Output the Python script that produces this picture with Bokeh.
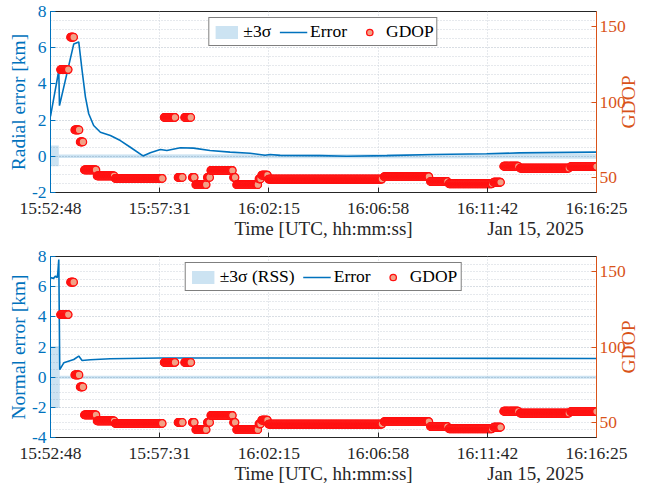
import math
import numpy as np
from bokeh.plotting import figure
from bokeh.models import (Range1d, LinearAxis, FixedTicker, DatetimeTickFormatter,
                          SingleIntervalTicker, Legend, LegendItem)
from bokeh.layouts import column
from bokeh.embed import file_html
from bokeh.resources import INLINE

# ---------------- data ----------------
start_time = "2025-01-15T15:52:48"
duration_s = 1417
tick_seconds = [0, 283, 567, 850, 1134, 1417]
x_title = "Time [UTC, hh:mm:ss]"
date_text = "Jan 15, 2025"
date_pos_s = 1258.5

# radial error [km]
radial_t = [0, 21.5, 23.3, 60.4, 73.3, 82, 90.7, 99.2, 112, 129.5, 155.4, 181.3, 207.2,
            240, 259, 285, 302, 337, 371, 414, 466, 518, 557, 570, 596, 699, 769, 873,
            992, 1132, 1217, 1417]
radial_err = [2.2, 4.74, 2.8, 6.21, 6.32, 4.74, 3.27, 2.35, 1.7, 1.33, 1.15, 0.87, 0.5,
              0.02, 0.2, 0.38, 0.32, 0.47, 0.45, 0.32, 0.23, 0.17, 0.06, 0.1, 0.05, 0.04,
              0.0, 0.04, 0.1, 0.14, 0.19, 0.23]
radial_sig_t = [0, 21.5, 21.6, 1417]
radial_sig_lo = [-0.55, -0.55, -0.1, -0.13]
radial_sig_hi = [0.6, 0.6, 0.1, 0.13]

# normal error [km]
normal_t = [0, 7.8, 13, 17.4, 19, 21.5, 24, 34.5, 60.4, 73.3, 82, 103.6, 155, 285, 570,
            907, 1417]
normal_err = [6.6, 6.55, 6.7, 6.6, 6.9, 7.8, 0.5, 0.95, 1.17, 1.4, 1.1, 1.15, 1.22,
              1.27, 1.27, 1.25, 1.24]
normal_sig_t = [0, 24, 24.1, 1417]
normal_sig_lo = [-2.05, -2.05, -0.1, -0.1]
normal_sig_hi = [2.05, 2.05, 0.1, 0.1]

# GDOP (constant-level runs: start [s], end [s], value)
gdop_start = [26, 52, 63, 77, 88, 121, 168, 295, 331, 348, 368, 377, 407, 416, 475,
              483, 541, 548, 566, 866, 986, 1034, 1150, 1176, 1219, 1350]
gdop_end = [46, 60, 74, 84, 118, 165, 290, 323, 342, 364, 373, 404, 413, 472, 479,
            538, 545, 563, 860, 982, 1030, 1146, 1168, 1214, 1345, 1417]
gdop_value = [121.5, 143, 81.5, 73.5, 55, 51, 49.3, 89.8, 50, 89.8, 50, 45.2, 50, 54.6,
              50, 45.2, 49, 51.5, 48.9, 50.5, 47.3, 45.8, 46.8, 57.4, 56.1, 57.2]
gdop_ticks = [50, 100, 150]
gdop_range = (40, 160)

# ---------------- style ----------------
FONT = "Liberation Serif"
BLUE = "#0072BD"
ORANGE = "#D95319"
DARK = "#262626"
GRID = "#ccd3da"
TICK_FS = "17.5px"
LABEL_FS = "19.5px"
FRAME_H = 181

t0_ms = float(np.datetime64(start_time, "ms").astype("int64"))


def to_ms(sec):
    return [t0_ms + 1000.0 * s for s in sec]


gd_t, gd_v = [], []
for s, e, v in zip(gdop_start, gdop_end, gdop_value):
    for tt in np.arange(s, e + 0.01, 1.0):
        gd_t.append(tt)
        gd_v.append(v)


def style_axis(a, color, fs=TICK_FS):
    a.axis_line_color = color
    a.major_tick_line_color = color
    a.major_label_text_color = color
    a.axis_label_text_color = color
    a.major_label_text_font = FONT
    a.major_label_text_font_size = fs
    a.axis_label_text_font = FONT
    a.axis_label_text_font_size = LABEL_FS
    a.axis_label_text_font_style = "normal"
    a.major_tick_in = 5
    a.major_tick_out = 0
    a.minor_tick_in = 0
    a.minor_tick_out = 0
    a.axis_line_width = 1
    a.major_label_standoff = 3
    a.axis_label_standoff = 1


def make_fig(height, top_border, bottom_border, ylabel, yr, t_err, err, t_sig, lo, hi,
             band_label):
    p = figure(width=652, height=height, x_axis_type="datetime",
               x_range=Range1d(t0_ms, t0_ms + duration_s * 1000.0),
               y_range=Range1d(*yr), output_backend="svg", toolbar_location=None,
               min_border_left=50, min_border_right=55, min_border_top=top_border,
               min_border_bottom=bottom_border, background_fill_color="white",
               border_fill_color="white")
    p.outline_line_color = DARK
    p.outline_line_width = 1

    p.extra_y_ranges = {"gdop": Range1d(*gdop_range)}

    band = p.varea(x=to_ms(t_sig), y1=lo, y2=hi, fill_color=BLUE, fill_alpha=0.2)
    line = p.line(x=to_ms(t_err), y=err, line_color=BLUE, line_width=1.6)
    sc = p.scatter(x=to_ms(gd_t), y=gd_v, y_range_name="gdop", size=7.5,
                   fill_color="#F2A287", line_color="#FF1010", line_width=1.3)

    # x axis (tick labels)
    xa = p.xaxis[0]
    xa.ticker = FixedTicker(ticks=to_ms(tick_seconds), minor_ticks=[])
    fmt = "%H:%M:%S"
    xa.formatter = DatetimeTickFormatter(seconds=fmt, minsec=fmt, minutes=fmt,
                                         hourmin=fmt, hours=fmt)
    style_axis(xa, DARK)
    xa.major_label_standoff = 5

    # second row under the x axis: title + date
    mid_ms = t0_ms + duration_s * 500.0
    date_ms = t0_ms + date_pos_s * 1000.0
    xb = LinearAxis(ticker=FixedTicker(ticks=[mid_ms, date_ms], minor_ticks=[]),
                    major_label_overrides={mid_ms: x_title, date_ms: date_text})
    style_axis(xb, DARK, fs="19px")
    xb.axis_line_color = None
    xb.major_tick_line_color = None
    xb.major_tick_in = 0
    xb.major_label_standoff = -3
    p.add_layout(xb, "below")

    # left axis
    ya = p.yaxis[0]
    ya.ticker = SingleIntervalTicker(interval=2, num_minor_ticks=4)
    ya.axis_label = ylabel
    style_axis(ya, BLUE)
    ya.major_label_overrides = {-2: "-2", -4: "-4"}
    ya.major_label_standoff = 4
    ya.axis_label_standoff = 0

    # right axis
    ra = LinearAxis(y_range_name="gdop",
                    ticker=FixedTicker(ticks=gdop_ticks, minor_ticks=[]))
    style_axis(ra, ORANGE)
    ra.major_label_standoff = 3
    p.add_layout(ra, "right")

    # right axis title, reading bottom-to-top; the rotated text starts at its
    # anchor, so the anchor is put half a text length below the axis middle
    g_span = gdop_range[1] - gdop_range[0]
    half_text_px = 26.5
    ganchor = 0.5 * (gdop_range[0] + gdop_range[1]) - half_text_px * g_span / FRAME_H
    rb = LinearAxis(y_range_name="gdop",
                    ticker=FixedTicker(ticks=[ganchor], minor_ticks=[]),
                    major_label_overrides={ganchor: "GDOP"})
    style_axis(rb, ORANGE, fs=LABEL_FS)
    rb.axis_line_color = None
    rb.major_tick_line_color = None
    rb.major_tick_in = 0
    rb.major_label_standoff = 0
    rb.major_label_orientation = math.pi / 2
    p.add_layout(rb, "right")

    # grids
    p.xgrid.grid_line_color = GRID
    p.xgrid.grid_line_dash = "1 2"
    p.ygrid.grid_line_color = GRID
    p.ygrid.grid_line_dash = "1 2"
    p.ygrid.minor_grid_line_color = GRID
    p.ygrid.minor_grid_line_dash = "1 2"

    legend = Legend(items=[LegendItem(label=band_label, renderers=[band]),
                           LegendItem(label="Error", renderers=[line]),
                           LegendItem(label="GDOP", renderers=[sc])],
                    orientation="horizontal", location="top_center")
    legend.label_text_font = FONT
    legend.label_text_font_size = TICK_FS
    legend.label_text_color = "black"
    legend.glyph_width = 28
    legend.glyph_height = 16
    legend.label_standoff = 3
    legend.spacing = 8
    legend.padding = 3
    legend.margin = 6
    legend.label_height = 17
    legend.border_line_color = "black"
    legend.border_line_width = 1
    legend.background_fill_alpha = 1
    p.add_layout(legend)
    return p


p1 = make_fig(245, 11, 53, "Radial error [km]", (-2, 8), radial_t, radial_err,
              radial_sig_t, radial_sig_lo, radial_sig_hi, "±3σ")
p2 = make_fig(244, 11, 52, "Normal error [km]", (-4, 8), normal_t, normal_err,
              normal_sig_t, normal_sig_lo, normal_sig_hi, "±3σ (RSS)")

layout = column(p1, p2, spacing=0)
open("out.html", "w").write(file_html(layout, INLINE))
